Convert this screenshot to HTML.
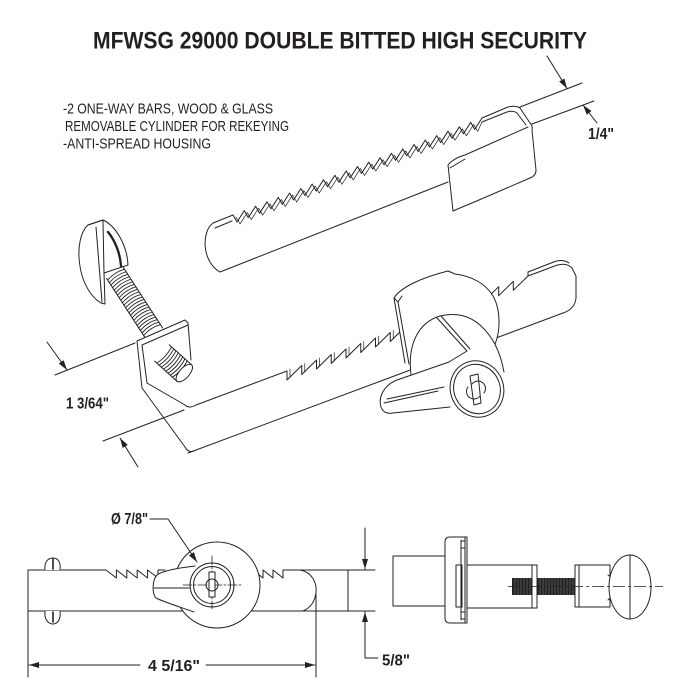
<!DOCTYPE html>
<html><head><meta charset="utf-8"><style>
html,body{margin:0;padding:0;background:#fff;}
svg{display:block;}
</style></head><body>
<svg width="685" height="700" viewBox="0 0 685 700" xmlns="http://www.w3.org/2000/svg">
<defs>
<marker id="ar" markerWidth="10" markerHeight="6" refX="10" refY="3" orient="auto" markerUnits="userSpaceOnUse">
<path d="M0,0 L10,3 L0,6 Z" fill="#222"/>
</marker>
</defs>
<rect width="685" height="700" fill="#fff"/>

<!-- Texts -->
<text x="93" y="48.5" font-family="Liberation Sans, sans-serif" font-weight="bold" font-size="24" fill="#231f20" textLength="494" lengthAdjust="spacingAndGlyphs">MFWSG 29000 DOUBLE BITTED HIGH SECURITY</text>
<g font-family="Liberation Sans, sans-serif" font-size="15" fill="#231f20">
<text x="63" y="113.5" textLength="210" lengthAdjust="spacingAndGlyphs">-2 ONE-WAY BARS, WOOD &amp; GLASS</text>
<text x="65" y="131" textLength="224" lengthAdjust="spacingAndGlyphs">REMOVABLE CYLINDER FOR REKEYING</text>
<text x="63" y="148.5" textLength="148" lengthAdjust="spacingAndGlyphs">-ANTI-SPREAD HOUSING</text>
</g>
<g font-family="Liberation Sans, sans-serif" font-weight="bold" font-size="15.5" fill="#231f20">
<text x="588" y="139" textLength="26" lengthAdjust="spacingAndGlyphs">1/4"</text>
<text x="66" y="408.5" textLength="43" lengthAdjust="spacingAndGlyphs">1 3/64"</text>
<text x="111" y="524" textLength="37" lengthAdjust="spacingAndGlyphs">Ø 7/8"</text>
<text x="382" y="665.5" textLength="28" lengthAdjust="spacingAndGlyphs">5/8"</text>
<text x="148" y="671" font-size="16" textLength="52" lengthAdjust="spacingAndGlyphs">4 5/16"</text>
</g>

<g fill="none" stroke="#222" stroke-width="1" stroke-linejoin="round" stroke-linecap="round">

<!-- ===== Upper bar ===== -->
<path d="M213,223 C201,232 202,262 220,272 L448,182"/>
<path d="M213,223 L233,215"/>
<path d="M215,228 L232,221"/>
<path d="M233,215 L237,222 L244.3,210.6 L248.3,217.6 L255.6,206.2 L259.6,213.2 L267,201.8 L271,208.8 L278.3,197.4 L282.3,204.4 L289.6,193 L293.6,200 L300.9,188.5 L304.9,195.5 L312.2,184.1 L316.2,191.1 L323.5,179.7 L327.5,186.7 L334.9,175.3 L338.9,182.3 L346.2,170.9 L350.2,177.9 L357.5,166.5 L361.5,173.5 L368.8,162.1 L372.8,169.1 L380.1,157.7 L384.1,164.7 L391.5,153.3 L395.5,160.3 L402.8,148.9 L406.8,155.9 L414.1,144.5 L418.1,151.5 L425.4,140 L429.4,147 L436.7,135.6 L440.7,142.6 L448,131.2 L452,138.2 L459.4,126.8 L463.4,133.8 L470.7,122.4 L474.7,129.4 L482,118"/>
<path stroke-width="0.7" d="M236,217 L240,224 L247.3,212.6 L251.3,219.6 L258.6,208.2 L262.6,215.2 L270,203.8 L274,210.8 L281.3,199.4 L285.3,206.4 L292.6,195 L296.6,202 L303.9,190.5 L307.9,197.5 L315.2,186.1 L319.2,193.1 L326.5,181.7 L330.5,188.7 L337.9,177.3 L341.9,184.3 L349.2,172.9 L353.2,179.9 L360.5,168.5 L364.5,175.5 L371.8,164.1 L375.8,171.1 L383.1,159.7 L387.1,166.7 L394.5,155.3 L398.5,162.3 L405.8,150.9 L409.8,157.9 L417.1,146.5 L421.1,153.5 L428.4,142 L432.4,149 L439.7,137.6 L443.7,144.6 L451,133.2 L455,140.2 L462.4,128.8 L466.4,135.8 L473.7,124.4 L477.7,131.4 L482,122"/>
<path d="M482,118 L508,107 Q515,105 520,108 L530,123"/>
<path d="M482,122 L507,112 Q513,110 517,113 L526,125"/>
<path d="M530,123 Q533,126 532,130 L536,170 Q536,176 530,178 L472,203 Q462,207 453,211 L448,165 C452,160 458,157 465,155 L528,127"/>
<path d="M450,168 L465,159"/>

<!-- 1/4 dims -->
<path d="M520,107 L582,83"/>
<path d="M532,124 L594,101"/>
<path d="M547,56 L567,88.5" marker-end="url(#ar)"/>
<path d="M597,123 L583,105" marker-end="url(#ar)"/>

<!-- ===== Lower bar ===== -->
<path d="M188,453 L563,313"/>
<path d="M196,405 L287,371 L287,380 L301.75,365.5 L301.75,374.5 L316.5,360 L316.5,369 L331.25,354.5 L331.25,363.5 L346,349 L346,358 L360.75,343.5 L360.75,352.5 L375.5,338 L375.5,347 L390.25,332.5 L390.25,341.5 L405,327 L420,321.5"/>
<path stroke-width="0.7" d="M290,369 L290,377 M304.75,363.5 L304.75,372 M319.5,358 L319.5,366.5 M334.25,352.5 L334.25,361 M349,347 L349,355.5 M363.75,341.5 L363.75,350 M378.5,336 L378.5,344.5 M393.25,330.5 L393.25,339"/>
<path d="M470,297 L484,292 L484,301 L498.7,286.7 L498.7,295.7 L513.3,281.3 L513.3,290.3 L528,276 L556,265.5 Q566,262 572,268 L576,276 L576,298 Q575,309 563,313"/>
<path d="M528,276 L528,272 L555,261.5 Q563,259 569,263"/>

<!-- Housing -->
<path fill="#fff" stroke="none" d="M394,298 C400,288 420,278 448,271 L455,274 C472,276 486,284 493,296 C501,310 501,334 493,348 L470,362 L410,370 L405,362 Z"/>
<path d="M405,363 L394,298 C400,288 420,278 448,271 L455,274 C472,276 486,284 493,296 C501,310 501,334 493,348"/>
<path d="M394,298 L398,302 L409,364"/>
<path d="M398,302 L402,296"/>

<!-- Cylinder -->
<path fill="#fff" stroke="none" d="M411,375 C407,342 420,322 440,316 C456,312 470,316 480,325 C492,336 500,350 505,372 L470,420 L410,400 Z"/>
<path d="M411,375 C407,342 420,322 440,316 C456,312 470,316 480,325 C492,336 500,350 504,372"/>

<!-- Wing -->
<path fill="#fff" stroke="none" d="M437,318 L467,351 L449,362 L397,380 C384,385 378,397 381,407 C383,413 389,414 393,413 L448,407 L470,400 L470,351 Z"/>
<path d="M437,318 L467,351 L449,362 L397,380 C384,385 378,397 381,407 C383,413 389,414 393,413 L450,407"/>
<path d="M441,316 L470,349"/>
<path d="M384,403 L438,391"/>
<path d="M387,399 L444,387"/>

<!-- Key face -->
<ellipse cx="477" cy="389" rx="26.5" ry="28.5" transform="rotate(-25 477 389)" fill="#fff"/>
<ellipse cx="477" cy="389" rx="23" ry="25" transform="rotate(-25 477 389)"/>
<path d="M470,376 L478,374 L481,403 L474,405 Z" fill="#fff"/>
<path d="M468,387 A6.5,6.5 0 0 0 480,396"/>
<path d="M472,384 A6.5,6.5 0 0 1 484,393"/>

<!-- Screw shank -->
<g transform="translate(115,273) rotate(57)">
<path d="M0,-10 L72,-10 M0,10 L72,10"/>
<path stroke-width="0.9" d="M2,-10 Q-1,0 2,10 M5,-10 Q2,0 5,10 M8,-10 Q5,0 8,10 M11,-10 Q8,0 11,10 M14,-10 Q11,0 14,10 M17,-10 Q14,0 17,10 M20,-10 Q17,0 20,10 M23,-10 Q20,0 23,10 M26,-10 Q23,0 26,10 M29,-10 Q26,0 29,10 M32,-10 Q29,0 32,10 M35,-10 Q32,0 35,10 M38,-10 Q35,0 38,10 M41,-10 Q38,0 41,10 M44,-10 Q41,0 44,10 M47,-10 Q44,0 47,10 M50,-10 Q47,0 50,10 M53,-10 Q50,0 53,10 M56,-10 Q53,0 56,10 M59,-10 Q56,0 59,10 M62,-10 Q59,0 62,10 M65,-10 Q62,0 65,10 M68,-10 Q65,0 68,10"/>
</g>

<!-- Screw head -->
<path fill="#fff" d="M88,225 C73,238 76,288 101,303 L105,304 L104,273 L128,265 C127,245 116,226 103,220 Z"/>
<path d="M96,227 L102,302"/>
<path d="M103,221 L104,273"/>
<path d="M88,225 L103,220"/>
<path stroke-width="2.4" stroke-dasharray="1 1" d="M108,232 C116,242 120,254 121,266"/>

<!-- Bracket vertical leg -->
<path fill="#fff" stroke="none" d="M137,341 L185,320 L188,323 L191,365 L185,405 L147,383 L142,345 Z"/>
<path d="M137,341 L185,320 L188,323 L191,360"/>
<path d="M142,345 L188,325"/>
<path d="M137,341 L142,388 L185,447 Q188,453 194,451"/>
<path d="M142,345 L147,383 L185,405 Q189,409 196,405"/>

<!-- Stub -->
<g transform="translate(162,353) rotate(42)">
<path fill="#fff" d="M0,-11 L30,-11 L30,11 L0,11"/>
<path stroke-width="0.9" d="M3,-11 Q6,0 3,11 M6,-11 Q9,0 6,11 M9,-11 Q12,0 9,11 M12,-11 Q15,0 12,11 M15,-11 Q18,0 15,11 M18,-11 Q21,0 18,11 M21,-11 Q24,0 21,11 M24,-11 Q27,0 24,11"/>
<ellipse cx="30" cy="0" rx="5" ry="11" fill="#fff"/>
</g>

<!-- 1 3/64 dims -->
<path d="M55,375 L135,343"/>
<path d="M103,441 L184,410"/>
<path d="M47,342 L67,370" marker-end="url(#ar)"/>
<path d="M138,467 L120,438" marker-end="url(#ar)"/>

<!-- ===== Bottom left view ===== -->
<path d="M28,570 L106,570 L116.4,578 L116.4,570 L126.8,578 L126.8,570 L137.2,578 L137.2,570 L147.6,578 L147.6,570 L158,578 L158,570 L165,570"/>
<path d="M250,570 L253,570 L263,578 L263,570 L273,578 L273,570 L283,578 L283,570 L300,570 C312,572 317,583 316,592 C315,602 310,608 303,611"/>
<path d="M300,570 L375,570"/>
<path d="M28,611 L375,611"/>
<path d="M348,570 L348,611"/>
<path d="M28,570 L28,677"/>
<path d="M316,594 L316,677"/>

<!-- screw head ends -->
<path fill="#fff" d="M45,570 C44,562 48,558 53,558 C58,558 61,562 60,570"/>
<path fill="#fff" d="M45,611 C44,619 48,624 53,624 C58,624 61,619 60,611"/>
<path stroke-width="1.6" d="M53,559 L53,569 M53,612 L53,622"/>

<!-- big circle -->
<circle cx="217" cy="585" r="43" fill="#fff"/>
<!-- lever -->
<path fill="#fff" stroke="none" d="M195,566 C178,568 162,571 157,575 C152,580 152,594 156,598 C164,602 180,607 194,612 L205,600 L205,570 Z"/>
<path d="M195,566 C178,568 162,571 157,575 C152,580 152,594 156,598 C164,602 180,607 194,612"/>
<path d="M154,588 L189,588"/>
<!-- cylinder rings -->
<circle cx="212" cy="585" r="22" fill="#fff"/>
<circle cx="212" cy="585" r="18.5"/>
<path stroke-width="0.8" stroke-dasharray="9 2 2 2" d="M183,585 L241,585 M212,556 L212,609"/>
<rect x="209" y="572" width="6" height="25" fill="#fff"/>
<circle cx="212" cy="585" r="6"/>

<!-- leader 7/8 -->
<path d="M150,519 L168,519 L197,562" marker-end="url(#ar)"/>

<!-- 4 5/16 dim -->
<path d="M140,665 L29,665" marker-end="url(#ar)"/>
<path d="M206,665 L315,665" marker-end="url(#ar)"/>

<!-- 5/8 dim -->
<path d="M365,528 L365,569" marker-end="url(#ar)"/>
<path d="M378,658 L365,658 L365,612" marker-end="url(#ar)"/>

<!-- ===== Bottom right view ===== -->
<rect x="393" y="556" width="52" height="50" fill="#fff"/>
<path fill="#fff" d="M450,537 L467,537 L467,623 L450,623 Q445,623 445,618 L445,542 Q445,537 450,537 Z"/>
<path d="M461,540 L461,620 M465,537 L465,623"/>
<path d="M461,541 L465,541 M461,548 L465,548 M461,612 L465,612 M461,619 L465,619"/>
<rect x="456" y="565" width="6" height="42"/>
<rect x="467" y="565" width="70" height="43" fill="#fff"/>
<path d="M532,565 L532,608"/>
<rect x="575" y="565" width="35" height="42" fill="#fff"/>
<path d="M579,565 L579,607"/>
<path d="M608,575 L612,578 L612,596 L608,600"/>
<ellipse cx="630" cy="587" rx="21" ry="32" fill="#fff"/>
<path d="M630,555 L630,619"/>
</g>
<!-- threaded rod -->
<rect x="512" y="578" width="20" height="17" fill="#222"/>
<rect x="537" y="578" width="38" height="17" fill="#222"/>
<path stroke="#777" stroke-width="0.6" d="M515,578 V595 M518,578 V595 M521,578 V595 M524,578 V595 M527,578 V595 M530,578 V595 M540,578 V595 M543,578 V595 M546,578 V595 M549,578 V595 M552,578 V595 M555,578 V595 M558,578 V595 M561,578 V595 M564,578 V595 M567,578 V595 M570,578 V595 M573,578 V595"/>
<path fill="none" stroke="#222" stroke-width="0.8" stroke-dasharray="12 3 3 3" d="M508,586.5 L663,586.5"/>
</svg>
</body></html>
